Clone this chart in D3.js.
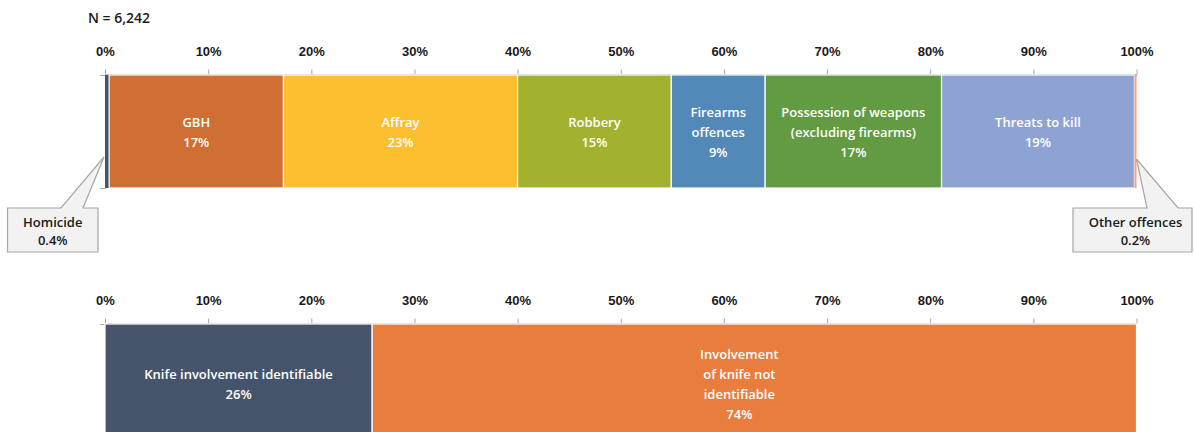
<!DOCTYPE html>
<html>
<head>
<meta charset="utf-8">
<script src="https://cdn.jsdelivr.net/npm/d3@7"></script>
<style>
  html, body { margin: 0; padding: 0; background: #fff; }
  svg { display: block; font-family: "Open Sans", "Noto Sans", sans-serif; }
  .tick text { font-size: 13px; font-weight: 600; fill: #1a1a1a; }
  .seg-label { font-size: 13px; font-weight: 600; fill: #fff; }
  .callout-text { font-size: 13px; font-weight: 600; fill: #1a1a1a; }
</style>
</head>
<body>
<svg id="chart" width="1194" height="432"></svg>
<script>
// Offence breakdown (share of offences, %)
const offenceNames = ["Homicide", "GBH", "Affray", "Robbery", "Firearms offences",
  "Possession of weapons (excluding firearms)", "Threats to kill", "Other offences"];
const offenceLines = [["Homicide"], ["GBH"], ["Affray"], ["Robbery"], ["Firearms", "offences"],
  ["Possession of weapons", "(excluding firearms)"], ["Threats to kill"], ["Other offences"]];
const offenceShares = [0.4, 16.9, 22.7, 14.9, 9.1, 17.1, 18.7, 0.2];
const offenceColors = ["#44546a", "#d06f33", "#fcbf2e", "#a0b22e", "#5289b9", "#629b42", "#8fa3d3", "#f4a384"];

// Knife involvement (share of offences, %)
const knifeNames = ["Knife involvement identifiable", "Involvement of knife not identifiable"];
const knifeLines = [["Knife involvement identifiable"], ["Involvement", "of knife not", "identifiable"]];
const knifeShares = [25.9, 74.1];
const knifeColors = ["#46546b", "#e97d3d"];

const tickValues = [0, 10, 20, 30, 40, 50, 60, 70, 80, 90, 100];
const sampleLabel = "N = 6,242";

const svg = d3.select("#chart");
const x = d3.scaleLinear().domain([0, 100]).range([105, 1136.5]);
const fmtPct = d => d3.format(".0f")(d) + "%";
const fmtPct1 = d => d3.format(".1f")(d) + "%";

svg.append("text")
  .attr("x", 88).attr("y", 23)
  .attr("font-size", 14).attr("font-weight", 600).attr("fill", "#1a1a1a")
  .text(sampleLabel);

function drawBar(cfg) {
  const { values, colors, lines, top, height, labelDx } = cfg;
  const g = svg.append("g");
  const ends = d3.cumsum(values);
  const segs = values.map((v, i) => ({ v, i, start: ends[i] - v, end: ends[i] }));

  // axis with ticks above the bar
  const axis = d3.axisTop(x).tickValues(tickValues).tickFormat(d => d + "%")
    .tickSize(5).tickSizeOuter(0).tickPadding(14);
  const ag = g.append("g").attr("transform", `translate(0,${top - 0.5})`).call(axis);
  ag.select(".domain").attr("stroke", "#a6a6a6").attr("stroke-width", 1.5);
  ag.selectAll(".tick line").attr("stroke", "#a6a6a6");
  ag.selectAll(".tick text").attr("dy", "0.35em").attr("y", -23);

  // category axis on the left (end ticks only)
  const yv = d3.scaleLinear().domain([0, 1]).range([top + height, top]);
  const lg = g.append("g").attr("transform", `translate(${x(0)},0)`)
    .call(d3.axisLeft(yv).tickValues([0, 1]).tickFormat("").tickSize(5).tickSizeOuter(0));
  lg.select(".domain").attr("stroke", "#a6a6a6");
  lg.selectAll(".tick line").attr("stroke", "#a6a6a6");

  // segments
  g.selectAll("rect.seg").data(segs).join("rect")
    .attr("class", "seg")
    .attr("x", d => x(d.start))
    .attr("y", top)
    .attr("width", d => x(d.end) - x(d.start))
    .attr("height", height)
    .attr("fill", d => colors[d.i])
    .attr("stroke", d => d.v >= 1 ? "#fff" : "none")
    .attr("stroke-width", 1.2);

  // in-bar labels
  const mid = top + height / 2 + 0.5;
  segs.filter(d => d.v >= 5).forEach(d => {
    const rows = lines[d.i].concat([fmtPct(d.v)]);
    const cx = (x(d.start) + x(d.end)) / 2 + (labelDx ? labelDx[d.i] : 0);
    const t = g.append("text").attr("class", "seg-label").attr("text-anchor", "middle");
    rows.forEach((r, k) => {
      t.append("tspan").attr("x", cx)
        .attr("y", mid + (k - (rows.length - 1) / 2) * 20)
        .attr("dominant-baseline", "central")
        .text(r);
    });
  });
  return segs;
}

const topSegs = drawBar({ values: offenceShares, colors: offenceColors, lines: offenceLines, top: 75, height: 113 });
drawBar({ values: knifeShares, colors: knifeColors, lines: knifeLines, top: 324, height: 118, labelDx: [0, -15] });

// callouts for the two thin segments
const callouts = [
  { i: 0, box: [7.5, 208, 98, 252], base: [61, 83], anchor: "start", ay: 157 },
  { i: 7, box: [1073, 208, 1192, 252], base: [1147, 1178], anchor: "end", ay: 159 }
];
callouts.forEach(c => {
  const s = topSegs[c.i];
  const ax = c.anchor === "start" ? x(s.start) - 1 : x(s.end);
  const [x0, y0, x1, y1] = c.box;
  const p = d3.path();
  p.moveTo(x0, y0);
  p.lineTo(c.base[0], y0);
  p.lineTo(ax, c.ay);
  p.lineTo(c.base[1], y0);
  p.lineTo(x1, y0);
  p.lineTo(x1, y1);
  p.lineTo(x0, y1);
  p.closePath();
  svg.append("path").attr("d", p.toString())
    .attr("fill", "#f2f2f2").attr("stroke", "#a6a6a6").attr("stroke-width", 1.2);
  const cx = (x0 + x1) / 2 + (c.anchor === "end" ? 3 : 0);
  const t = svg.append("text").attr("class", "callout-text").attr("text-anchor", "middle");
  [offenceNames[c.i], fmtPct1(s.v)].forEach((r, k) => {
    t.append("tspan").attr("x", cx).attr("y", (y0 + y1) / 2 + (k - 0.5) * 18 + 0.5)
      .attr("dominant-baseline", "central").text(r);
  });
});
</script>
</body>
</html>
